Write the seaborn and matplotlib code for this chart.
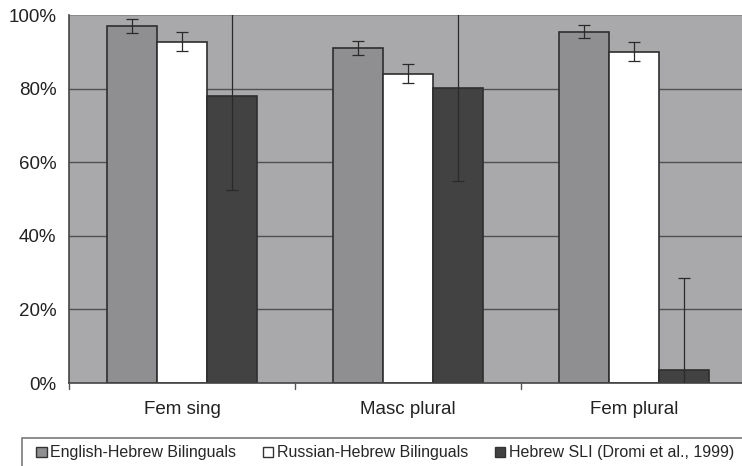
import numpy as np
import pandas as pd
import matplotlib.pyplot as plt
import seaborn as sns
from matplotlib.patches import Rectangle, Patch

# Data
categories = ['Fem sing', 'Masc plural', 'Fem plural']
groups = ['English-Hebrew Bilinguals', 'Russian-Hebrew Bilinguals', 'Hebrew SLI (Dromi et al., 1999)']
english = [97.0, 91.0, 95.5]
russian = [92.7, 84.0, 90.0]
sli = [78.0, 80.2, 3.5]
english_err = [1.8, 1.9, 1.8]
russian_err = [2.6, 2.6, 2.6]
sli_err = [25.5, 25.3, 25.0]

colors = ['#8f8f91', '#ffffff', '#424242']

df = pd.DataFrame({
    'category': categories * 3,
    'group': [groups[0]] * 3 + [groups[1]] * 3 + [groups[2]] * 3,
    'value': english + russian + sli,
})
errs = english_err + russian_err + sli_err

sns.set_theme(style='white')
plt.rcParams['font.family'] = ['Liberation Sans', 'DejaVu Sans']

fig = plt.figure(figsize=(7.42, 4.66), dpi=100)
ax = fig.add_axes([69 / 742, 1 - 383 / 466, 678 / 742, 368 / 466])
ax.set_facecolor('#a9a9ab')

sns.barplot(data=df, x='category', y='value', hue='group', palette=colors,
            width=0.665, edgecolor='#2e2e2e', linewidth=1.2, ax=ax,
            legend=False, errorbar=None, zorder=2)

# error bars, drawn from bar centers
bars = ax.patches[:9]
for i, b in enumerate(bars):
    xc = b.get_x() + b.get_width() / 2
    ax.errorbar(xc, b.get_height(), yerr=errs[i], fmt='none', ecolor='#2a2a2a',
                elinewidth=0.9, capsize=4, capthick=0.9, zorder=3)

ax.set_xlim(-0.5, 2.5)
ax.set_ylim(0, 100)
ax.set_yticks([0, 20, 40, 60, 80, 100])
ax.set_yticklabels(['0%', '20%', '40%', '60%', '80%', '100%'], fontsize=13.5, color='#222222')
ax.set_xticks([0, 1, 2])
ax.set_xticklabels(categories, fontsize=13.5, color='#222222')
ax.tick_params(axis='x', length=0, pad=13)
ax.tick_params(axis='y', length=5, color='#444444', width=1, direction='out', pad=4)
for y in [20, 40, 60, 80]:
    ax.axhline(y, color='#505050', linewidth=1, zorder=1)
ax.set_xlabel('')
ax.set_ylabel('')

# category separator ticks below the axis
for xs in [-0.5, 0.5, 1.5]:
    ax.plot([xs, xs], [0, -1.5], color='#555555', linewidth=1, clip_on=False, zorder=4)

for s in ['top', 'right']:
    ax.spines[s].set_visible(False)
ax.axhline(100, color='#8a8a8a', linewidth=1.5, zorder=1)
ax.spines['left'].set_color('#444444')
ax.spines['bottom'].set_color('#444444')
ax.spines['left'].set_linewidth(1.2)
ax.spines['bottom'].set_linewidth(1.2)

# legend box at bottom
fig.patches.append(Rectangle((22 / 742, -0.1), 1.0, (466 - 438) / 466 + 0.1,
                             transform=fig.transFigure, fill=False,
                             edgecolor='#7a7a7a', linewidth=1.2))
handles = [Patch(facecolor=c, edgecolor='#333333', linewidth=1) for c in colors]
fig.legend(handles, groups, loc='center', bbox_to_anchor=(385 / 742, 1 - 453 / 466),
           ncol=3, frameon=False, fontsize=11.5, handlelength=0.65, handleheight=0.65,
           handletextpad=0.2, columnspacing=1.7)

fig.savefig('out.png', dpi=100)
